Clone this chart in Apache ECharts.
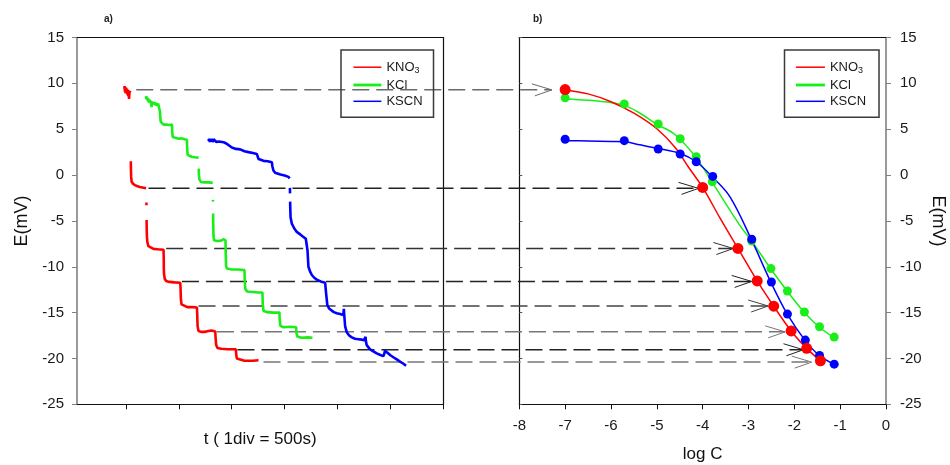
<!DOCTYPE html>
<html>
<head>
<meta charset="utf-8">
<script src="https://cdn.jsdelivr.net/npm/echarts@6/dist/echarts.min.js"></script>
<style>
  html, body { margin: 0; padding: 0; background: #fff; }
  #chart { width: 950px; height: 465px; }
</style>
</head>
<body>
<div id="chart"></div>
<script>
// ---- panel a): potential vs time, [t (s), E (mV)]; null breaks the trace ----
const kno3Trace = [
  [484, 9.4], [487, 9.7], [490, 9.1], [494, 9.6], [497, 8.9], [501, 9.5], [505, 9.0], [509, 9.4],
  [513, 8.8], [517, 9.3], [521, 8.6], [525, 9.2], [529, 8.3], [533, 9.0], [537, 8.9], [541, 9.2],
  null,
  [546, 1.5], [547, 0.6], [549, -0.2], [553, -0.7], [566, -0.95], [585, -1.1], [604, -1.2],
  [630, -1.3], [655, -1.35], [690, -1.45],
  null, [693, -3.0], [694, -3.3], null,
  [695, -4.9], [696, -5.8], [698, -6.7], [702, -7.3], [712, -7.75], [730, -7.95], [760, -8.05],
  [800, -8.1], [855, -8.15],
  [857, -9.0], [858, -10.2], [860, -10.8], [866, -11.3], [880, -11.55], [910, -11.65], [960, -11.7], [1013, -11.75],
  [1016, -12.3], [1019, -13.5], [1025, -14.1], [1040, -14.3], [1080, -14.4], [1130, -14.4], [1171, -14.45],
  [1174, -15.3], [1177, -16.5], [1186, -17.0], [1210, -17.1], [1250, -17.1], [1280, -17.0], [1310, -16.95], [1344, -17.05],
  [1347, -17.7], [1352, -18.5], [1365, -18.85], [1400, -18.95], [1460, -19.0], [1539, -19.0],
  [1542, -19.5], [1548, -20.0], [1565, -20.15], [1620, -20.25], [1700, -20.25], [1753, -20.2]
];
const kclTrace = [
  [689, 8.6], [692, 8.3], [695, 8.55], [699, 8.2], [703, 8.45], [708, 8.05], [713, 8.3], [718, 7.9],
  [724, 8.2], [730, 7.85], [736, 8.1], [742, 7.4], [746, 8.0], [752, 7.75], [758, 7.95], [765, 7.7],
  [772, 7.9], [780, 7.6], [788, 7.85], [796, 7.55], [804, 7.8], [812, 7.6], [818, 7.7],
  [822, 6.9], [825, 6.2], [829, 5.8], [835, 5.6], [845, 5.75], [855, 5.5], [866, 5.65], [880, 5.5],
  [895, 5.6], [910, 5.45], [925, 5.55], [935, 5.5],
  [938, 4.6], [942, 4.15], [955, 4.0], [975, 4.05], [1000, 3.95], [1030, 4.0], [1055, 3.9], [1076, 3.85],
  [1079, 2.8], [1083, 2.2], [1095, 2.0], [1120, 2.0], [1150, 1.95], [1186, 1.9],
  null,
  [1188, 0.7], [1190, 0.0], [1195, -0.5], [1210, -0.75], [1240, -0.8], [1280, -0.8], [1320, -0.85],
  null, [1322, -2.7], [1323, -2.9], null,
  [1324, -4.2], [1325, -5.5], [1327, -6.5], [1332, -7.1], [1360, -7.2], [1400, -7.15], [1420, -7.0], [1441, -7.1],
  [1443, -8.5], [1446, -9.9], [1455, -10.2], [1500, -10.3], [1560, -10.3], [1620, -10.35],
  [1623, -11.5], [1628, -12.4], [1645, -12.7], [1700, -12.75], [1750, -12.8], [1790, -12.8],
  [1793, -14.0], [1800, -14.8], [1830, -14.95], [1890, -15.0], [1951, -15.0],
  [1953, -15.8], [1960, -16.45], [1990, -16.6], [2050, -16.55], [2109, -16.6],
  [2111, -17.2], [2120, -17.6], [2160, -17.75], [2220, -17.7], [2263, -17.75]
];
const kscnTrace = [
  [1280, 3.7], [1286, 3.95], [1292, 3.6], [1298, 3.9], [1305, 3.65], [1312, 3.95], [1320, 3.6],
  [1328, 3.9], [1336, 3.7], [1345, 3.85], [1355, 3.6], [1365, 3.8], [1375, 3.65], [1391, 3.75],
  [1410, 3.6], [1430, 3.55], [1454, 3.4], [1478, 3.2], [1501, 3.0], [1540, 2.85], [1580, 2.8],
  [1620, 2.6], [1658, 2.5], [1700, 2.4], [1737, 2.3], [1750, 2.2],
  [1753, 1.75], [1770, 1.6], [1800, 1.55], [1840, 1.5], [1879, 1.4],
  [1885, 0.9], [1894, 0.5], [1910, 0.25], [1926, 0.15], [1960, 0.05], [2000, -0.05], [2036, -0.2], [2048, -0.35],
  null, [2050, -1.4], [2051, -2.0], null,
  [2052, -2.9], [2053, -3.5], [2056, -4.6], [2068, -5.3], [2090, -5.8], [2115, -6.2], [2150, -6.5],
  [2178, -6.75], [2200, -6.95], [2210, -7.1],
  [2216, -8.2], [2225, -10.0], [2240, -10.5], [2257, -10.9], [2280, -11.2], [2304, -11.4], [2340, -11.6],
  [2383, -11.75], [2386, -11.55],
  [2392, -12.9], [2404, -14.2], [2420, -14.55], [2436, -14.75], [2465, -14.95], [2493, -15.07],
  [2525, -15.15], [2555, -15.26], [2560, -14.6], [2563, -15.2],
  [2572, -16.5], [2588, -17.15], [2610, -17.5], [2635, -17.7], [2665, -17.85], [2698, -17.9],
  [2730, -17.95], [2751, -18.0], [2765, -17.65], [2768, -18.1],
  [2776, -18.55], [2800, -18.9], [2824, -19.15], [2850, -19.3], [2871, -19.45], [2900, -19.6],
  [2933, -19.75], [2942, -19.5], [2949, -19.15], [2960, -19.3], [2975, -19.4], [3000, -19.65],
  [3028, -19.87], [3060, -20.1], [3091, -20.35], [3120, -20.55], [3148, -20.8]
];
const timeTicks = [500, 1000, 1500, 2000, 2500, 3000, 3500];

// ---- panel b): potential vs log C ----
const kno3LogC = [-7.0, -4.0, -3.23, -2.81, -2.45, -2.07, -1.73, -1.43];
const kno3E    = [9.32, -1.35, -8.0, -11.55, -14.3, -17.0, -18.9, -20.25];
const kclLogC  = [-7.0, -5.71, -4.97, -4.49, -4.14, -3.79, -2.93, -2.51, -2.15, -1.78, -1.45, -1.13];
const kclE     = [8.42, 7.76, 5.57, 3.97, 2.0, -0.73, -7.2, -10.2, -12.64, -14.94, -16.54, -17.67];
const kscnLogC = [-7.0, -5.71, -4.97, -4.49, -4.14, -3.78, -2.93, -2.50, -2.15, -1.76, -1.45, -1.13];
const kscnE    = [3.9, 3.75, 2.84, 2.3, 1.45, -0.15, -7.0, -11.66, -15.16, -18.0, -19.67, -20.62];

// fitted calibration curves
const kno3FitLogC = [-7.0, -6.5, -6.0, -5.5, -5.0, -4.6, -4.3, -4.0, -3.62, -3.23, -2.81, -2.45, -2.07, -1.73, -1.43];
const kno3FitE    = [9.25, 8.85, 8.0, 6.75, 5.05, 3.0, 0.8, -1.35, -4.7, -8.0, -11.55, -14.3, -17.0, -18.9, -20.25];
const kclFitLogC  = [-7.0, -6.5, -6.0, -5.71, -5.4, -5.0, -4.6, -4.14, -3.79, -3.2, -2.93, -2.51, -2.15, -1.78, -1.45, -1.13];
const kclFitE     = [8.3, 8.15, 7.9, 7.6, 6.85, 5.55, 4.4, 1.9, -0.8, -5.4, -7.2, -10.25, -12.7, -15.0, -16.6, -17.75];
const kscnFitLogC = [-7.0, -6.5, -6.0, -5.71, -5.37, -4.97, -4.49, -4.14, -3.78, -3.4, -2.93, -2.51, -2.15, -1.77, -1.45, -1.13];
const kscnFitE    = [3.75, 3.72, 3.66, 3.62, 3.3, 2.9, 2.35, 1.45, -0.25, -2.4, -7.1, -11.7, -15.2, -18.0, -19.7, -20.65];

// dashed links from each KNO3 plateau to its calibration point
const linkTime  = [597, 713, 880, 1029, 1186, 1360, 1554, 1800];
const linkE     = [9.29, -1.45, -8.01, -11.6, -14.28, -17.1, -19.05, -20.4];
const linkLogC  = [-7.29, -4.09, -3.33, -2.93, -2.57, -2.2, -1.80, -1.62];
const linkColor = ['#6a6a6a', '#222', '#333', '#222', '#444', '#777', '#222', '#777'];

const names  = ['KNO3', 'KCl', 'KSCN'];
const colors = ['#ff0000', '#19ee19', '#0000ff'];
const FONT = '"Liberation Sans", Arial, sans-serif';

const zip = (xs, ys) => xs.map((x, i) => [x, ys[i]]);
const trace = pts => pts.map(p => (p === null ? ['-', '-'] : p));

const chart = echarts.init(document.getElementById('chart'));

const legendCommon = {
  orient: 'vertical',
  top: 50,
  data: [
    { name: 'KNO3', lineStyle: { width: 1.5 } },
    { name: 'KCl', lineStyle: { width: 2.8 } },
    { name: 'KSCN', lineStyle: { width: 1.5 } }
  ],
  itemWidth: 28,
  itemHeight: 14,
  itemGap: 3.3,
  borderColor: '#3a3a3a',
  borderWidth: 1.5,
  borderRadius: 0,
  lineStyle: { width: 1.5 },
  itemStyle: { opacity: 0 },
  selectedMode: false,
  textStyle: {
    fontFamily: FONT, fontSize: 13, color: '#1a1a1a',
    rich: { sub: { fontFamily: FONT, fontSize: 9, color: '#1a1a1a', padding: [7, 0, 0, 0] } }
  },
  formatter: n => (n === 'KNO3' ? 'KNO{sub|3}' : n)
};

const axisText = { fontFamily: FONT, fontSize: 15, color: '#1a1a1a' };
const nameText = { fontFamily: FONT, fontSize: 17, color: '#111' };
const border = (extra) => Object.assign({
  type: 'value',
  axisLine: { show: true, onZero: false, lineStyle: { color: '#111', width: 1.2 } },
  axisTick: { show: false },
  axisLabel: { show: false },
  splitLine: { show: false }
}, extra);

const option = {
  animation: false,
  backgroundColor: '#fff',
  title: [
    { text: 'a)', left: 104, top: 14, padding: 0, textStyle: { fontFamily: FONT, fontSize: 10, fontWeight: 'bold', color: '#222' } },
    { text: 'b)', left: 533, top: 14, padding: 0, textStyle: { fontFamily: FONT, fontSize: 10, fontWeight: 'bold', color: '#222' } }
  ],
  legend: [
    Object.assign({}, legendCommon, { left: 341, padding: [10.7, 11, 9.4, 11] }),
    Object.assign({}, legendCommon, { left: 784.5, padding: [10.7, 13, 9.4, 10], itemWidth: 29 })
  ],
  grid: [
    { left: 77, right: 506.7, top: 37.5, bottom: 60.7, outerBoundsMode: 'none', containLabel: false },
    { left: 519.3, right: 64, top: 37.5, bottom: 60.7, outerBoundsMode: 'none', containLabel: false }
  ],
  xAxis: [
    {
      gridIndex: 0, type: 'value', position: 'bottom', min: 37, max: 3500,
      axisLine: { show: true, onZero: false, lineStyle: { color: '#111', width: 1.2 } },
      axisTick: { show: true, length: 5, customValues: timeTicks, lineStyle: { color: '#111' } },
      axisLabel: { show: false },
      splitLine: { show: false },
      name: 't ( 1div = 500s)', nameLocation: 'middle', nameGap: 27, nameTextStyle: nameText
    },
    border({ gridIndex: 0, position: 'top', min: 37, max: 3500 }),
    {
      gridIndex: 1, type: 'value', position: 'bottom', min: -8, max: 0, interval: 1,
      axisLine: { show: true, onZero: false, lineStyle: { color: '#111', width: 1.2 } },
      axisTick: { show: true, length: 5, lineStyle: { color: '#111' } },
      axisLabel: Object.assign({ margin: 14 }, axisText),
      splitLine: { show: false },
      name: 'log C', nameLocation: 'middle', nameGap: 42, nameTextStyle: nameText
    },
    border({ gridIndex: 1, position: 'top', min: -8, max: 0 })
  ],
  yAxis: [
    {
      gridIndex: 0, type: 'value', position: 'left', min: -25, max: 15, interval: 5,
      axisLine: { show: true, onZero: false, lineStyle: { color: '#808080', width: 1.6 } },
      axisTick: { show: true, length: 5, lineStyle: { color: '#808080' } },
      axisLabel: Object.assign({ margin: 13 }, axisText),
      splitLine: { show: false },
      name: 'E(mV)', nameLocation: 'middle', nameGap: 46,
      nameTextStyle: Object.assign({}, nameText, { fontSize: 18 })
    },
    border({ gridIndex: 0, position: 'right', min: -25, max: 15 }),
    border({
      gridIndex: 1, position: 'left', min: -25, max: 15, interval: 5,
      axisTick: { show: true, inside: true, length: 3, lineStyle: { color: '#555' } }
    }),
    {
      gridIndex: 1, type: 'value', position: 'right', min: -25, max: 15, interval: 5,
      axisLine: { show: true, onZero: false, lineStyle: { color: '#808080', width: 1.6 } },
      axisTick: { show: true, length: 5, lineStyle: { color: '#808080' } },
      axisLabel: Object.assign({ margin: 14 }, axisText),
      splitLine: { show: false },
      name: 'E(mV)', nameLocation: 'middle', nameGap: 43, nameRotate: -90,
      nameTextStyle: Object.assign({}, nameText, { fontSize: 18 })
    }
  ],
  series: [
    // time traces (panel a)
    ...[kno3Trace, kclTrace, kscnTrace].map((pts, i) => ({
      name: names[i], type: 'line', xAxisIndex: 0, yAxisIndex: 0,
      data: trace(pts), symbol: 'none', connectNulls: false, z: 3,
      lineStyle: { color: colors[i], width: 2.6 }, itemStyle: { color: colors[i] }
    })),
    // fitted curves (panel b), drawn green, blue, red
    ...[[1, kclFitLogC, kclFitE], [2, kscnFitLogC, kscnFitE], [0, kno3FitLogC, kno3FitE]].map(([i, xs, ys]) => ({
      name: names[i], type: 'line', xAxisIndex: 2, yAxisIndex: 3,
      data: zip(xs, ys), smooth: 0.35, symbol: 'none', z: 3,
      lineStyle: { color: colors[i], width: 1.5 }, itemStyle: { color: colors[i] }
    })),
    // measured points (panel b)
    ...[[1, kclLogC, kclE, 9], [2, kscnLogC, kscnE, 9], [0, kno3LogC, kno3E, 11]].map(([i, xs, ys, s]) => ({
      name: names[i], type: 'scatter', xAxisIndex: 2, yAxisIndex: 3,
      data: zip(xs, ys), symbol: 'circle', symbolSize: s, z: 4,
      itemStyle: { color: colors[i], opacity: 1 }
    }))
  ]
};

chart.setOption(option);

// dashed arrows linking the two panels, placed through each panel's own axes
const kno3TraceIndex = 0;
const kno3PointIndex = option.series.length - 1;
const links = [];
linkE.forEach((e, i) => {
  const a = chart.convertToPixel({ seriesIndex: kno3TraceIndex }, [linkTime[i], e]);
  const b = chart.convertToPixel({ seriesIndex: kno3PointIndex }, [linkLogC[i], e]);
  links.push({
    type: 'line', z: 1, silent: true,
    shape: { x1: a[0], y1: a[1], x2: b[0], y2: b[1] },
    style: { stroke: linkColor[i], lineWidth: 1.5, lineDash: [17, 7] }
  });
  links.push({
    type: 'polyline', z: 1, silent: true,
    shape: { points: [[b[0] - 20, b[1] - 6], [b[0], b[1]], [b[0] - 17, b[1] + 6]] },
    style: { stroke: linkColor[i], lineWidth: 1, fill: null }
  });
});
chart.setOption({ graphic: links });
</script>
</body>
</html>
